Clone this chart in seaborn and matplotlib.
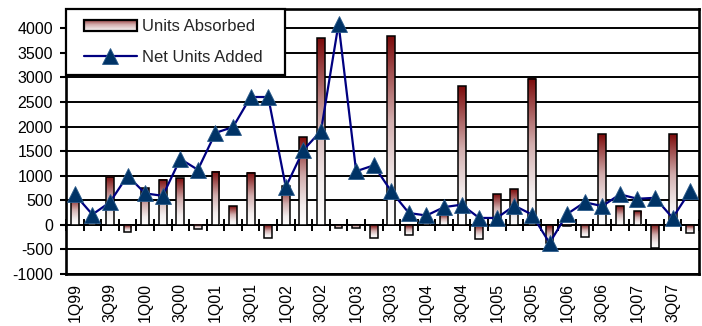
import numpy as np
import pandas as pd
import matplotlib
matplotlib.use("Agg")
import matplotlib.pyplot as plt
from matplotlib.colors import LinearSegmentedColormap
from matplotlib.legend_handler import HandlerBase
from matplotlib.patches import Rectangle
from matplotlib.lines import Line2D
import seaborn as sns

# ---- data -------------------------------------------------------------
quarters = [f"{q}Q{y:02d}" for y in (99, 0, 1, 2, 3, 4, 5, 6, 7) for q in (1, 2, 3, 4)]
units_absorbed = [550, 120, 980, -140, 740, 920, 950, -90, 1080, 380, 1060, -260,
                  780, 1780, 3790, -60, -60, -260, 3840, -200, 60, 220, 2820, -280,
                  620, 730, 2970, -360, -30, -250, 1840, 380, 280, -470, 1850, -160]
net_units_added = [620, 210, 460, 1000, 640, 590, 1340, 1120, 1870, 1990, 2600, 2600,
                   770, 1520, 1910, 4090, 1090, 1210, 680, 240, 190, 360, 410, 140,
                   140, 390, 210, -370, 220, 460, 380, 620, 530, 550, 140, 690]
shown_labels = [q if q[0] in "13" else "" for q in quarters]
y_ticks = list(range(-1000, 4001, 500))
series_names = ["Units Absorbed", "Net Units Added"]

df = pd.DataFrame({"quarter": quarters, "absorbed": units_absorbed, "net": net_units_added})

# ---- style ------------------------------------------------------------
sns.set_theme(style="white")
plt.rcParams["font.family"] = ["Liberation Sans", "DejaVu Sans"]

BAR_CMAP = LinearSegmentedColormap.from_list(
    "bar_fade", [(0.0, "#ffffff"), (0.22, "#f3eded"), (0.55, "#d2aeae"), (1.0, "#7c0b0b")])
LINE_COLOR = "#000080"
MARKER_FACE = "#003366"

fig = plt.figure(figsize=(7.02, 3.26), dpi=100)
ax = fig.add_axes([66 / 702, 1 - 274 / 326, 633 / 702, 265 / 326])

# bars: transparent body with black outline, gradient painted underneath
sns.barplot(data=df, x="quarter", y="absorbed", width=0.45, color="white",
            edgecolor="black", linewidth=1.1, ax=ax, zorder=3)
for p in ax.patches:
    p.set_facecolor("none")
    x0, w = p.get_x(), p.get_width()
    y0, h = p.get_y(), p.get_height()
    lo, hi = min(y0, y0 + h), max(y0, y0 + h)
    grad = np.linspace(0, 1, 128).reshape(-1, 1)
    ax.imshow(grad, extent=(x0, x0 + w, lo, hi), origin="lower", aspect="auto",
              cmap=BAR_CMAP, zorder=2.9, interpolation="bilinear")

sns.pointplot(data=df, x="quarter", y="net", color=LINE_COLOR, markers="^",
              errorbar=None, linewidth=1.6, markersize=12, ax=ax)
for ln in ax.lines:
    ln.set_zorder(5)
    ln.set_markerfacecolor(MARKER_FACE)
    ln.set_markeredgecolor("#2a5a8a")
    ln.set_markeredgewidth(0.6)

# ---- axes -------------------------------------------------------------
n = len(quarters)
ymin, ymax = -1000, 4390
ax.set_xlim(-0.5, n - 0.5)
ax.set_ylim(ymin, ymax)
ax.set_yticks(y_ticks)
ax.set_yticklabels([str(v) for v in y_ticks])
ax.set_xticks(range(n))
ax.set_xticklabels(shown_labels, rotation=90, va="top", ha="center")
ax.set_xlabel("")
ax.set_ylabel("")
ax.tick_params(axis="x", length=0, pad=6.5, labelsize=11.5, colors="black")
ax.tick_params(axis="y", length=4.5, width=1.5, direction="out", pad=5,
               labelsize=11.5, colors="black", left=True)
ax.set_axisbelow(True)
ax.yaxis.grid(True, color="black", linewidth=1.4)
ax.xaxis.grid(False)
for s in ax.spines.values():
    s.set_visible(True)
    s.set_color("black")
    s.set_linewidth(1.9)

# category axis crossing at zero with tick marks between categories
zero_frac = (0 - ymin) / (ymax - ymin)
sec = ax.secondary_xaxis(zero_frac)
sec.set_xticks(np.arange(-0.5, n, 1.0))
sec.tick_params(direction="inout", length=8.5, width=1.4, color="black",
                labelbottom=False, labeltop=False)
for s in sec.spines.values():
    s.set_linewidth(1.4)
    s.set_color("black")


# ---- legend -----------------------------------------------------------
class GradientSwatch(HandlerBase):
    def __init__(self, inset):
        super().__init__()
        self.inset = inset

    def create_artists(self, legend, orig_handle, xdescent, ydescent, width,
                       height, fontsize, trans):
        x0 = -xdescent + width * self.inset
        w = width * (1 - self.inset)
        k = 12
        arts = []
        for i in range(k):
            c = BAR_CMAP(0.15 + 0.75 * (i + 0.5) / k)
            arts.append(Rectangle((x0, -ydescent + height * i / k), w, height / k,
                                  facecolor=c, edgecolor="none", transform=trans))
        arts.append(Rectangle((x0, -ydescent), w, height, facecolor="none",
                              edgecolor="black", linewidth=1.6, transform=trans))
        return arts


class InsetLine(HandlerBase):
    def __init__(self, inset):
        super().__init__()
        self.inset = inset

    def create_artists(self, legend, orig_handle, xdescent, ydescent, width,
                       height, fontsize, trans):
        x0 = -xdescent + width * self.inset
        x1 = -xdescent + width
        y = -ydescent + height / 2
        line = Line2D([x0, x1], [y, y], color=LINE_COLOR, linewidth=1.6, transform=trans)
        mark = Line2D([(x0 + x1) / 2], [y], marker="^", markersize=12, linestyle="none",
                      markerfacecolor=MARKER_FACE, markeredgecolor="#2a5a8a",
                      markeredgewidth=0.6, transform=trans)
        return [line, mark]


bar_proxy = Rectangle((0, 0), 1, 1)
line_proxy = Line2D([], [])
leg = ax.legend(handles=[bar_proxy, line_proxy], labels=series_names,
                handler_map={bar_proxy: GradientSwatch(0.13), line_proxy: InsetLine(0.13)},
                loc="upper left", bbox_to_anchor=(0, 0, 219 / 633, 1), mode="expand",
                borderaxespad=0, fontsize=12, handlelength=3.65, handleheight=0.65,
                handletextpad=0.3, borderpad=0.6, labelspacing=0.95,
                fancybox=False, framealpha=1, edgecolor="black")
leg.get_frame().set_linewidth(1.6)
leg.set_zorder(10)

fig.savefig("out.png", dpi=100, facecolor="white")
